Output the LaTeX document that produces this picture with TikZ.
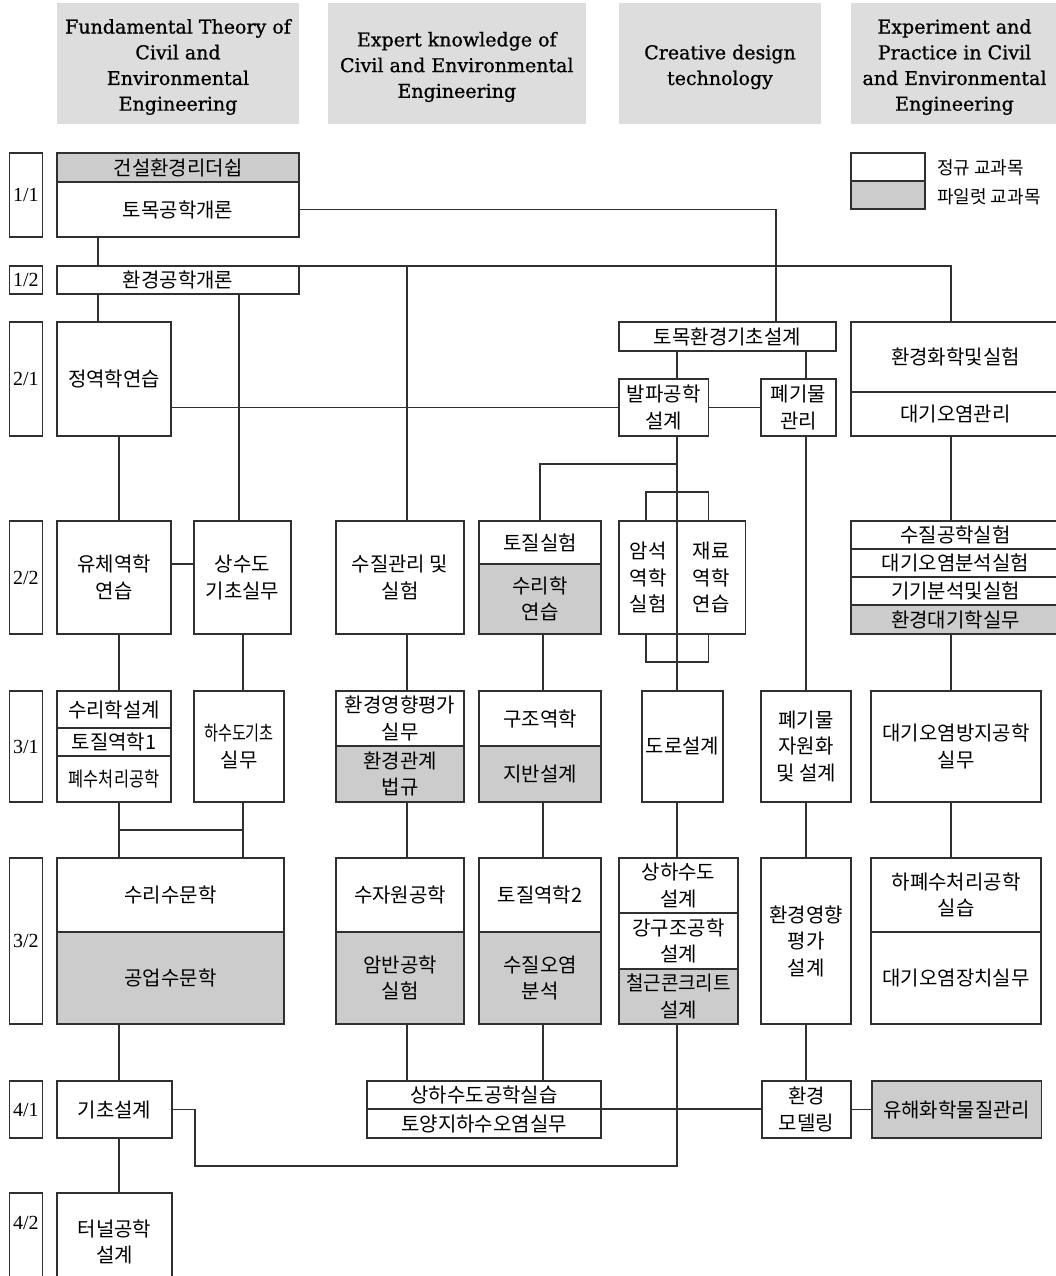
\documentclass[tikz,border=0pt]{standalone}
\usepackage{fontspec}
\usepackage{graphicx}
\setmainfont{Liberation Serif}
\newfontfamily\krf{Noto Sans CJK KR}
\newfontfamily\hdf[FakeBold=0.8]{DejaVu Serif}
\definecolor{lc}{HTML}{303030}
\definecolor{hdr}{HTML}{DDDDDD}
\definecolor{pil}{HTML}{CCCCCC}
\newcommand\kr{\krf\fontsize{20}{26.5}\selectfont}
\newcommand\krs{\krf\fontsize{18}{20}\selectfont}
\newcommand\hd{\hdf\fontsize{19}{25.7}\selectfont}
\newcommand\lb{\fontsize{20}{24}\selectfont}
\tikzset{
  cbox/.style={draw=lc, line width=1.1pt, inner sep=0pt, outer sep=0pt, align=center, font=\kr},
  lbox/.style={draw=lc, line width=1.1pt, inner sep=0pt, outer sep=0pt, font=\lb},
  hfill/.style={fill=hdr},
  htxt/.style={inner sep=0pt, outer sep=0pt, align=center, font=\hd},
  conn/.style={draw=lc, line width=1.1pt},
  ltxt/.style={anchor=west, inner sep=0pt, font=\krs}
}
% [fill]{name}{x1}{y1}{x2}{y2}{text}
\newcommand\bxsize[4]{%
  \pgfmathsetmacro\bw{#3-#1}\pgfmathsetmacro\bh{#4-#2}%
  \pgfmathsetmacro\bcx{(#1+#3)/2}\pgfmathsetmacro\bcy{(#2+#4)/2}}
\newcommand\cbx[7][white]{\bxsize{#3}{#4}{#5}{#6}%
  \node[cbox,fill=#1,minimum width=\bw pt,minimum height=\bh pt] (#2) at (\bcx,\bcy) {#7};}
\newcommand\lbx[6]{\bxsize{#2}{#3}{#4}{#5}%
  \node[lbox,minimum width=\bw pt,minimum height=\bh pt] (#1) at (\bcx,\bcy) {#6};}
\newcommand\hbx[6]{\bxsize{#2}{#3}{#4}{#5}%
  \fill[hfill] (#2,#3) rectangle (#4,#5);
  \node[htxt] (#1) at (\bcx,\bcy+3.5) {#6};}
\newcommand\sq[2]{\scalebox{#1}[1]{#2}}
\begin{document}
\begin{tikzpicture}[x=1pt,y=-1pt]
\useasboundingbox (0,0) rectangle (1055,1276);
% guides
\coordinate (c98) at (98,0);
\coordinate (c119) at (119,0);
\coordinate (c195) at (195,0);
\coordinate (c239) at (239,0);
\coordinate (c243) at (243,0);
\coordinate (c407) at (407,0);
\coordinate (c540) at (540,0);
\coordinate (c543) at (543,0);
\coordinate (c646) at (646,0);
\coordinate (c677) at (677,0);
\coordinate (c708) at (708.5,0);
\coordinate (c776) at (776,0);
\coordinate (c806) at (806,0);
\coordinate (c951) at (951,0);
\coordinate (r464) at (0,464);
\coordinate (r492) at (0,492);
\coordinate (r662) at (0,662);
\coordinate (r830) at (0,830);
\coordinate (r1166) at (0,1166);

% headers
\hbx{h1}{57}{3}{299}{124}{Fundamental Theory of\\Civil and\\Environmental\\Engineering}
\hbx{h2}{328}{3}{585.6}{124}{Expert knowledge of\\Civil and Environmental\\Engineering}
\hbx{h3}{619}{3}{821}{124}{Creative design\\technology}
\hbx{h4}{851}{3}{1058}{124}{Experiment and\\Practice in Civil\\and Environmental\\Engineering}

% semester labels
\lbx{s11}{9.5}{153}{42.3}{237}{1/1}
\lbx{s12}{9.5}{266}{42.3}{294}{1/2}
\lbx{s21}{9.5}{322}{42.3}{436}{2/1}
\lbx{s22}{9.5}{521}{42.3}{634}{2/2}
\lbx{s31}{9.5}{691}{42.3}{802}{3/1}
\lbx{s32}{9.5}{858}{42.3}{1024}{3/2}
\lbx{s41}{9.5}{1081}{42.3}{1138}{4/1}
\lbx{s42}{9.5}{1193}{42.3}{1300}{}
\node[font=\lb, inner sep=0pt] (s42t) at (25.9,1223) {4/2};

% legend
\cbx{lgw}{851}{153}{925}{181}{}
\cbx[pil]{lgg}{851}{181}{925}{209}{}
\node[ltxt] (lgt1) at (937,168) {정규 교과목};
\node[ltxt] (lgt2) at (937,197) {파일럿 교과목};

% column 1
\cbx[pil]{ldr}{57}{153}{299}{182}{건설환경리더쉽}
\cbx{tmgn}{57}{182}{299}{237}{토목공학개론}
\cbx{hggn}{57}{266}{299}{294}{환경공학개론}
\cbx{jyh}{57}{322}{171}{436}{정역학연습}
\cbx{yche}{57}{521}{171}{634}{유체역학\\연습}
\cbx{ssd}{194}{521}{291}{634}{상수도\\기초실무}
\cbx{srhs}{57}{691}{171}{728}{수리학설계}
\cbx{tj1}{57}{728}{171}{756}{토질역학1}
\cbx{pscr}{57}{756}{171}{802}{\sq{0.82}{폐수처리공학}}
\cbx{hsd}{194}{691}{284}{802}{\sq{0.76}{하수도기초}\\실무}
\cbx{srsm}{57}{858}{284}{932}{수리수문학}
\cbx[pil]{gusm}{57}{932}{284}{1024}{공업수문학}
\cbx{gcsg}{57}{1081}{172}{1138}{기초설계}
\cbx{tngh}{57}{1193}{172}{1291}{터널공학\\설계}

% column 2
\cbx{sjgr}{336}{521}{464}{634}{수질관리 및\\실험}
\cbx{hgyp}{336}{691}{464}{746}{환경영향평가\\실무}
\cbx[pil]{hggy}{336}{746}{464}{802}{환경관계\\법규}
\cbx{sssj}{336}{858}{464}{932}{수자원공학}
\cbx[pil]{abgh}{336}{932}{464}{1024}{암반공학\\실험}
\cbx{shsg}{367}{1081}{601}{1109}{상하수도공학실습}
\cbx{tyj}{367}{1109}{601}{1138}{토양지하수오염실무}

% column 3
\cbx{tjsh}{479}{521}{601}{564}{토질실험}
\cbx[pil]{srhy}{479}{564}{601}{634}{수리학\\연습}
\cbx{gjyh}{479}{691}{601}{746}{구조역학}
\cbx[pil]{jbsg}{479}{746}{601}{802}{지반설계}
\cbx{tj2}{479}{858}{601}{932}{토질역학2}
\cbx[pil]{sjoy}{479}{932}{601}{1024}{수질오염\\분석}

% column 4
\cbx{tmkc}{619}{322}{836}{351}{토목환경기초설계}
\cbx{bp}{619}{379}{708.5}{436}{발파공학\\설계}
\cbx{pgg}{761}{379}{836}{436}{폐기물\\관리}
\cbx{am}{619}{521}{677}{634}{암석\\역학\\실험}
\cbx{jr}{677}{521}{745.6}{634}{재료\\역학\\연습}
\cbx{drsg}{642}{691}{723}{802}{도로설계}
\cbx{shsd}{619}{858}{738}{913}{상하수도\\설계}
\cbx{ggj}{619}{913}{738}{969}{강구조공학\\설계}
\cbx[pil]{cgk}{619}{969}{738}{1024}{\sq{0.95}{철근콘크리트}\\설계}
\cbx{pgjw}{761}{691}{851}{802}{폐기물\\자원화\\및 설계}
\cbx{hgyg}{761}{858}{851}{1024}{환경영향\\평가\\설계}
\cbx{hgmd}{762}{1081}{851}{1138}{환경\\모델링}

% column 5
\cbx{hghs}{851}{322}{1060}{392}{환경화학및실험}
\cbx{dgog}{851}{392}{1060}{436}{대기오염관리}
\cbx{sjgs}{851}{521}{1060}{549}{수질공학실험}
\cbx{dgob}{851}{549}{1060}{577}{대기오염분석실험}
\cbx{ggbs}{851}{577}{1060}{605}{기기분석및실험}
\cbx[pil]{hgdg}{851}{605}{1060}{634}{환경대기학실무}
\cbx{dgbj}{871}{691}{1041}{802}{대기오염방지공학\\실무}
\cbx{hpsc}{871}{858}{1041}{932}{하폐수처리공학\\실습}
\cbx{dgjc}{871}{932}{1041}{1024}{대기오염장치실무}
\cbx[pil]{yhhh}{872}{1081}{1041.5}{1138}{유해화학물질관리}

% connectors
\draw[conn] (tmgn.south -| c98) -- (hggn.north -| c98);
\draw[conn] (hggn.north east) -| (hghs.north -| c951);
\draw[conn] (tmgn.east) -| (tmkc.north -| c776);
\draw[conn] (hggn.north -| c407) -- (sjgr.north -| c407);
\draw[conn] (hggn.south -| c98) -- (jyh.north -| c98);
\draw[conn] (hggn.south -| c239) -- (ssd.north -| c239);
\draw[conn] (jyh.east |- bp.west) -- (bp.west);
\draw[conn] (bp.east) -- (pgg.west);
\draw[conn] (tmkc.south -| c677) -- (bp.north -| c677);
\draw[conn] (tmkc.south -| c806) -- (pgg.north -| c806);
\draw[conn] (bp.south -| c677) -- (drsg.north -| c677);
\draw[conn] (tjsh.north -| c540) |- (c677 |- r464);
\draw[conn] (am.north -| c646) |- (c677 |- r492) -| (jr.north -| c708);
\draw[conn] (am.south -| c646) |- (c677 |- r662) -| (jr.south -| c708);
\draw[conn] (jyh.south -| c119) -- (yche.north -| c119);
\draw[conn] (yche.east |- tjsh.south) -- (ssd.west |- tjsh.south);
\draw[conn] (pgg.south -| c806) -- (pgjw.north -| c806);
\draw[conn] (dgog.south -| c951) -- (sjgs.north -| c951);
\draw[conn] (yche.south -| c119) -- (srhs.north -| c119);
\draw[conn] (ssd.south -| c243) -- (hsd.north -| c243);
\draw[conn] (sjgr.south -| c407) -- (hgyp.north -| c407);
\draw[conn] (srhy.south -| c543) -- (gjyh.north -| c543);
\draw[conn] (hgdg.south -| c951) -- (dgbj.north -| c951);
\draw[conn] (pscr.south -| c119) -- (srsm.north -| c119);
\draw[conn] (hsd.south -| c243) -- (srsm.north -| c243);
\draw[conn] (c119 |- r830) -- (c243 |- r830);
\draw[conn] (hggy.south -| c407) -- (sssj.north -| c407);
\draw[conn] (jbsg.south -| c543) -- (tj2.north -| c543);
\draw[conn] (drsg.south -| c677) -- (shsd.north -| c677);
\draw[conn] (pgjw.south -| c806) -- (hgyg.north -| c806);
\draw[conn] (dgbj.south -| c951) -- (hpsc.north -| c951);
\draw[conn] (gusm.south -| c119) -- (gcsg.north -| c119);
\draw[conn] (abgh.south -| c407) -- (shsg.north -| c407);
\draw[conn] (sjoy.south -| c543) -- (shsg.north -| c543);
\draw[conn] (cgk.south -| c677) |- (c195 |- r1166) |- (gcsg.east);
\draw[conn] (shsg.south east) -- (hgmd.west |- shsg.south east);
\draw[conn] (hgmd.east) -- (yhhh.west);
\draw[conn] (hgyg.south -| c806) -- (hgmd.north -| c806);
\draw[conn] (gcsg.south -| c119) -- (tngh.north -| c119);
\end{tikzpicture}
\end{document}
